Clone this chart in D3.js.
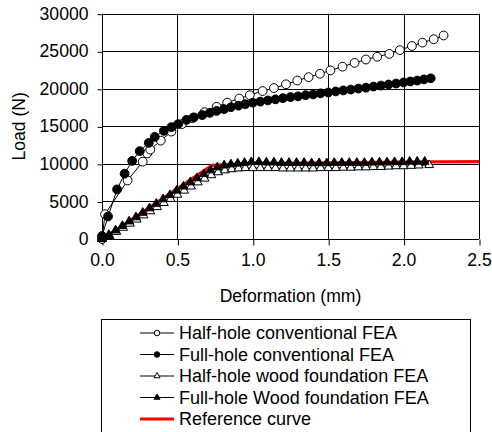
<!DOCTYPE html>
<html>
<head>
<meta charset="utf-8">
<script src="https://cdn.jsdelivr.net/npm/d3@7"></script>
<style>
  body { margin: 0; background: #fff; }
  svg { display: block; font-family: "Liberation Sans", Arial, sans-serif; }
</style>
</head>
<body>
<svg width="492" height="432"></svg>
<script>
// deformation (mm) / load (N) pairs
var halfHoleConv = [
  [0, 0], [0.02, 3300], [0.17, 7800], [0.27, 10300], [0.30, 11400], [0.32, 11900],
  [0.39, 13100], [0.46, 14300], [0.53, 15300], [0.60, 16100], [0.68, 16900], [0.76, 17600],
  [0.83, 18150], [0.91, 18700], [0.98, 19150], [1.065, 19700], [1.14, 20100], [1.22, 20600],
  [1.295, 21100], [1.37, 21550], [1.445, 22000], [1.515, 22450], [1.595, 22950], [1.675, 23450],
  [1.75, 23900], [1.825, 24270], [1.905, 24650], [1.975, 25150], [2.055, 25700], [2.125, 26150],
  [2.2, 26600], [2.265, 27100]
];
var fullHoleConv = [
  [0, 400], [0.04, 3000], [0.1, 6600], [0.15, 8700], [0.2, 10400], [0.25, 11700],
  [0.31, 12800], [0.35, 13600], [0.41, 14400], [0.46, 14900], [0.505, 15300], [0.56, 15850],
  [0.61, 16200], [0.665, 16500], [0.715, 16800], [0.76, 17050], [0.81, 17300], [0.855, 17550],
  [0.905, 17750], [0.95, 17950], [1.0, 18150], [1.05, 18300], [1.1, 18450], [1.15, 18600],
  [1.2, 18750], [1.25, 18900], [1.3, 19000], [1.35, 19150], [1.4, 19250], [1.45, 19400],
  [1.5, 19500], [1.55, 19650], [1.6, 19780], [1.65, 19900], [1.7, 20030], [1.75, 20150],
  [1.8, 20300], [1.85, 20430], [1.9, 20570], [1.95, 20700], [2.0, 20850], [2.045, 20980],
  [2.09, 21100], [2.135, 21250], [2.18, 21400]
];
var halfHoleWood = [
  [0, 0], [0.05, 400], [0.095, 950], [0.14, 1500], [0.185, 2050], [0.23, 2600],
  [0.275, 3150], [0.32, 3700], [0.365, 4250], [0.41, 4800], [0.455, 5350], [0.5, 5900],
  [0.545, 6450], [0.59, 7000], [0.635, 7550], [0.68, 8050], [0.725, 8500], [0.77, 8900],
  [0.815, 9150], [0.86, 9300], [0.905, 9400], [0.95, 9450], [1.0, 9450], [1.05, 9450],
  [1.1, 9450], [1.15, 9450], [1.2, 9400], [1.25, 9400], [1.3, 9400], [1.35, 9400],
  [1.4, 9400], [1.45, 9450], [1.5, 9450], [1.55, 9450], [1.6, 9500], [1.65, 9500],
  [1.7, 9550], [1.75, 9550], [1.8, 9600], [1.85, 9600], [1.9, 9650], [1.95, 9700],
  [2.0, 9700], [2.05, 9750], [2.1, 9800], [2.17, 9850]
];
var fullHoleWood = [
  [0, 0], [0.045, 550], [0.09, 1150], [0.135, 1750], [0.18, 2350], [0.225, 2900],
  [0.27, 3500], [0.315, 4100], [0.36, 4700], [0.405, 5300], [0.45, 5850], [0.495, 6450],
  [0.54, 7000], [0.585, 7550], [0.63, 8100], [0.675, 8650], [0.72, 9150], [0.765, 9550],
  [0.81, 9800], [0.855, 9950], [0.9, 10050], [0.945, 10150], [0.99, 10250], [1.04, 10250],
  [1.09, 10200], [1.14, 10200], [1.19, 10150], [1.24, 10150], [1.29, 10150], [1.34, 10150],
  [1.39, 10100], [1.44, 10100], [1.49, 10100], [1.54, 10150], [1.59, 10150], [1.64, 10150],
  [1.69, 10150], [1.74, 10150], [1.79, 10200], [1.84, 10200], [1.89, 10200], [1.94, 10250],
  [1.99, 10250], [2.04, 10300], [2.09, 10300], [2.14, 10300]
];
var referenceCurve = [
  [0, 0], [0.1, 1300], [0.3, 4000], [0.5, 6700], [0.73, 9800], [1.0, 10050],
  [1.5, 10150], [2.0, 10250], [2.5, 10300]
];
var xTicks = [0, 0.5, 1.0, 1.5, 2.0, 2.5];
var yTicks = [0, 5000, 10000, 15000, 20000, 25000, 30000];
var legendLabels = [
  "Half-hole conventional FEA",
  "Full-hole conventional FEA",
  "Half-hole wood foundation FEA",
  "Full-hole Wood foundation FEA",
  "Reference curve"
];

var svg = d3.select("svg");

var x = d3.scaleLinear().domain([0, 2.5]).range([102, 479]);
var y = d3.scaleLinear().domain([0, 30000]).range([239, 13.7]);

// grid
svg.append("g")
  .selectAll("line")
  .data(yTicks)
  .enter().append("line")
  .attr("x1", x(0)).attr("x2", x(2.5))
  .attr("y1", function(d) { return Math.round(y(d)) + 0.5; })
  .attr("y2", function(d) { return Math.round(y(d)) + 0.5; })
  .attr("stroke", "#000");

svg.append("g")
  .selectAll("line")
  .data(xTicks)
  .enter().append("line")
  .attr("x1", function(d) { return Math.round(x(d)) + 0.5; })
  .attr("x2", function(d) { return Math.round(x(d)) + 0.5; })
  .attr("y1", y(30000)).attr("y2", y(0))
  .attr("stroke", "#000");

// axes
var xAxis = svg.append("g")
  .attr("transform", "translate(0," + (Math.round(y(0)) + 0.5) + ")")
  .call(d3.axisBottom(x).tickValues(xTicks).tickSize(6).tickPadding(8).tickFormat(d3.format(".1f")));

var yAxis = svg.append("g")
  .attr("transform", "translate(" + (Math.round(x(0)) + 0.5) + ",0)")
  .call(d3.axisLeft(y).tickValues(yTicks).tickSize(5).tickPadding(9).tickFormat(d3.format("d")));

[xAxis, yAxis].forEach(function(a) {
  a.select(".domain").remove();
  a.selectAll(".tick line").attr("stroke", "#000").attr("transform", null);
  a.selectAll("text")
    .attr("fill", "#000")
    .attr("font-family", "'Liberation Sans', Arial, sans-serif")
    .attr("font-size", 17.6);
});
xAxis.selectAll(".tick line").attr("x1", 0.5).attr("x2", 0.5);
yAxis.selectAll(".tick line").attr("y1", 0.5).attr("y2", 0.5);

svg.append("text")
  .attr("x", (x(0) + x(2.5)) / 2)
  .attr("y", 301.5)
  .attr("text-anchor", "middle")
  .attr("font-size", 17.6)
  .text("Deformation (mm)");

svg.append("text")
  .attr("transform", "translate(24.5," + (y(0) + y(30000)) / 2 + ") rotate(-90)")
  .attr("text-anchor", "middle")
  .attr("font-size", 17.6)
  .text("Load (N)");

// series
var line = d3.line()
  .x(function(d) { return x(d[0]); })
  .y(function(d) { return y(d[1]); });

var tri = d3.symbol().type(d3.symbolTriangle).size(34);

svg.append("path")
  .datum(referenceCurve)
  .attr("d", line)
  .attr("fill", "none")
  .attr("stroke", "#ff0000")
  .attr("stroke-width", 3.2);

function drawSeries(data, marker) {
  var g = svg.append("g");
  g.append("path")
    .datum(data)
    .attr("d", line)
    .attr("fill", "none")
    .attr("stroke", "#000")
    .attr("stroke-width", 1);
  if (marker === "openCircle" || marker === "circle") {
    g.selectAll("circle")
      .data(data)
      .enter().append("circle")
      .attr("cx", function(d) { return x(d[0]); })
      .attr("cy", function(d) { return y(d[1]); })
      .attr("r", 4.4)
      .attr("fill", marker === "circle" ? "#000" : "#fff")
      .attr("stroke", "#000")
      .attr("stroke-width", 1);
  } else {
    g.selectAll(".m")
      .data(data)
      .enter().append("path")
      .attr("transform", function(d) { return "translate(" + x(d[0]) + "," + y(d[1]) + ")"; })
      .attr("d", tri)
      .attr("fill", marker === "triangle" ? "#000" : "#fff")
      .attr("stroke", "#000")
      .attr("stroke-width", 1);
  }
}

drawSeries(halfHoleConv, "openCircle");
drawSeries(fullHoleConv, "circle");
drawSeries(halfHoleWood, "openTriangle");
drawSeries(fullHoleWood, "triangle");

// legend
var markers = ["openCircle", "circle", "openTriangle", "triangle", "ref"];
svg.append("rect")
  .attr("x", 101.5).attr("y", 319.5)
  .attr("width", 369).attr("height", 140)
  .attr("fill", "#fff")
  .attr("stroke", "#000");

var legend = svg.append("g")
  .selectAll("g")
  .data(legendLabels)
  .enter().append("g")
  .attr("transform", function(d, i) { return "translate(0," + (333 + i * 21.5) + ")"; });

legend.append("line")
  .attr("x1", 140).attr("x2", 174)
  .attr("stroke", function(d, i) { return markers[i] === "ref" ? "#ff0000" : "#000"; })
  .attr("stroke-width", function(d, i) { return markers[i] === "ref" ? 3.2 : 1; });

legend.each(function(d, i) {
  var m = markers[i], g = d3.select(this);
  if (m === "openCircle" || m === "circle") {
    g.append("circle").attr("cx", 157).attr("r", 2.8)
      .attr("fill", m === "circle" ? "#000" : "#fff").attr("stroke", "#000");
  } else if (m !== "ref") {
    g.append("path").attr("transform", "translate(157,0)")
      .attr("d", d3.symbol().type(d3.symbolTriangle).size(16))
      .attr("fill", m === "triangle" ? "#000" : "#fff").attr("stroke", "#000");
  }
});

legend.append("text")
  .attr("x", 179)
  .attr("dy", "0.35em")
  .attr("font-size", 18)
  .text(function(d) { return d; });
</script>
</body>
</html>
